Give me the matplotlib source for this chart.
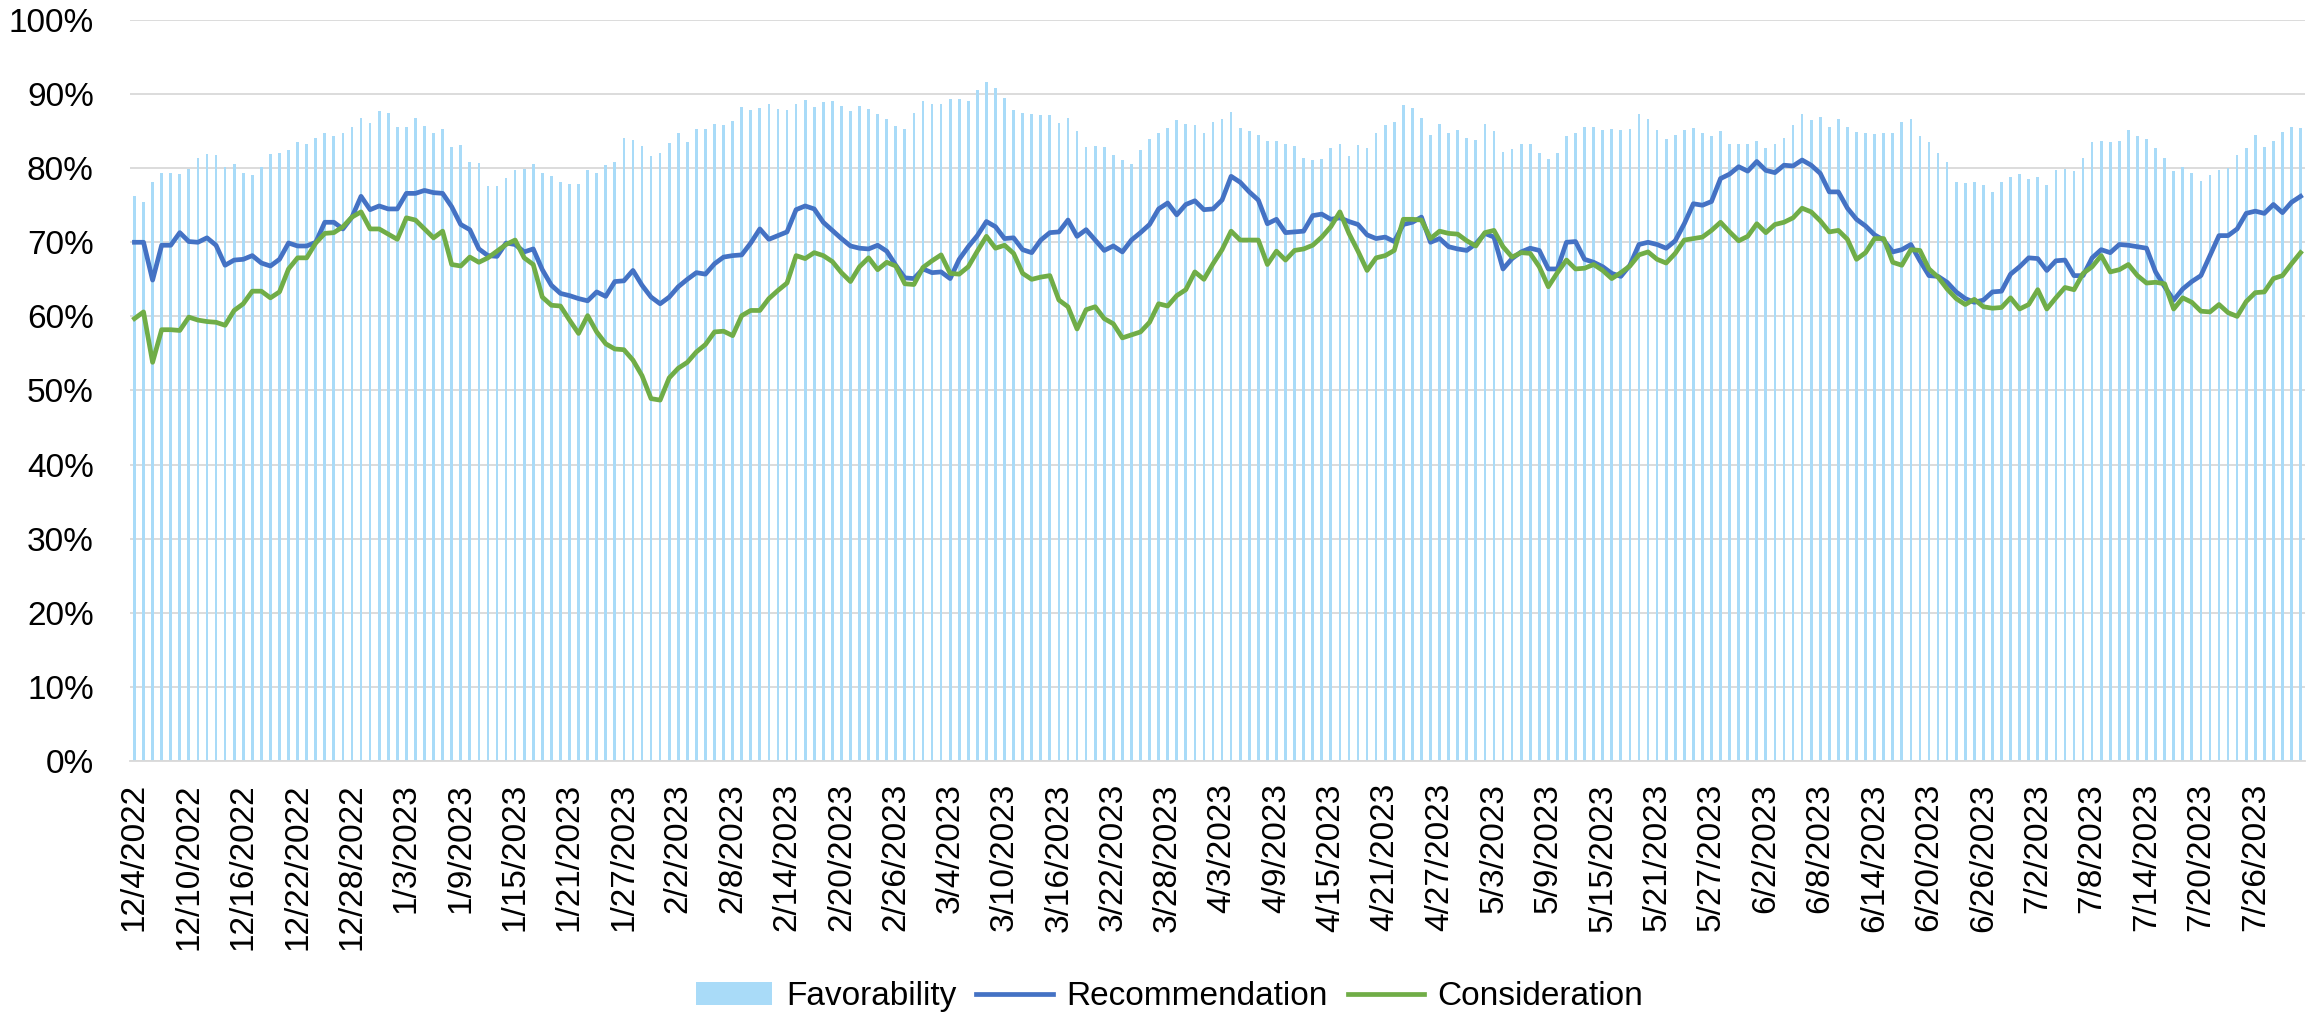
import matplotlib
matplotlib.use('Agg')
import matplotlib.pyplot as plt
import numpy as np
import pandas as pd

plt.rcParams['font.family'] = ['Liberation Sans', 'DejaVu Sans']

# daily dates, 12/4/2022 .. 7/31/2023
dates = pd.date_range('2022-12-04', '2023-07-31', freq='D')
labels = [f'{d.month}/{d.day}/{d.year}' for d in dates]

favorability = [
    76.2, 75.5, 78.1, 79.3, 79.3, 79.2, 79.9, 81.4, 81.9, 81.8,
    80.1, 80.5, 79.3, 79.1, 80.2, 81.9, 82.0, 82.5, 83.5, 83.2,
    84.1, 84.7, 84.4, 84.8, 85.5, 86.8, 86.1, 87.7, 87.4, 85.5,
    85.5, 86.8, 85.7, 84.8, 85.3, 82.8, 83.1, 80.8, 80.7, 77.6,
    77.6, 78.7, 79.7, 79.9, 80.5, 79.4, 78.9, 78.1, 77.9, 77.8,
    79.7, 79.3, 80.4, 80.9, 84.1, 83.8, 83.0, 81.7, 82.1, 83.4,
    84.7, 83.5, 85.3, 85.3, 86.0, 85.8, 86.3, 88.2, 87.8, 88.1,
    88.6, 88.0, 87.8, 88.6, 89.2, 88.3, 88.9, 89.1, 88.4, 87.7,
    88.4, 88.0, 87.3, 86.7, 85.7, 85.3, 87.4, 89.0, 88.6, 88.6,
    89.3, 89.3, 89.1, 90.5, 91.6, 90.8, 89.5, 87.8, 87.4, 87.3,
    87.2, 87.2, 86.1, 86.8, 85.0, 82.8, 83.0, 82.8, 81.8, 81.1,
    80.6, 82.4, 83.9, 84.8, 85.4, 86.5, 86.0, 85.8, 84.7, 86.2,
    86.7, 87.6, 85.4, 85.0, 84.5, 83.7, 83.7, 83.3, 83.0, 81.4,
    81.1, 81.2, 82.7, 83.3, 81.6, 83.1, 82.7, 84.8, 85.8, 86.2,
    88.5, 88.1, 86.8, 84.5, 85.9, 84.7, 85.1, 84.1, 83.8, 85.9,
    85.0, 82.2, 82.6, 83.3, 83.3, 82.1, 81.2, 82.1, 84.3, 84.7,
    85.6, 85.6, 85.1, 85.3, 85.1, 85.3, 87.3, 86.7, 85.1, 83.9,
    84.5, 85.1, 85.4, 84.8, 84.3, 85.0, 83.3, 83.3, 83.2, 83.7,
    82.7, 83.2, 84.1, 85.8, 87.3, 86.5, 86.9, 85.5, 86.6, 85.5,
    84.9, 84.7, 84.6, 84.7, 84.7, 86.2, 86.6, 84.3, 83.5, 82.0,
    80.8, 78.1, 78.0, 78.2, 77.7, 76.8, 78.2, 78.8, 79.2, 78.5,
    78.8, 77.7, 79.8, 79.9, 79.6, 81.4, 83.5, 83.7, 83.5, 83.7,
    85.1, 84.3, 83.9, 82.7, 81.4, 79.6, 80.2, 79.4, 78.3, 79.1,
    79.7, 80.0, 81.8, 82.7, 84.5, 82.8, 83.7, 84.9, 85.5, 85.4,
]

recommendation = [
    70.0, 70.0, 64.9, 69.6, 69.6, 71.3, 70.1, 70.0, 70.6, 69.6,
    66.9, 67.6, 67.7, 68.2, 67.2, 66.8, 67.7, 69.9, 69.5, 69.5,
    70.0, 72.7, 72.7, 71.8, 73.4, 76.2, 74.4, 74.9, 74.5, 74.5,
    76.6, 76.6, 77.0, 76.7, 76.6, 74.8, 72.4, 71.7, 69.1, 68.2,
    68.1, 69.9, 69.7, 68.7, 69.1, 66.3, 64.2, 63.1, 62.8, 62.4,
    62.1, 63.3, 62.7, 64.7, 64.8, 66.2, 64.2, 62.6, 61.7, 62.6,
    64.0, 65.0, 65.9, 65.7, 67.1, 68.0, 68.2, 68.3, 69.9, 71.8,
    70.4, 70.9, 71.4, 74.4, 74.9, 74.5, 72.7, 71.6, 70.5, 69.5,
    69.2, 69.1, 69.6, 68.8, 66.9, 65.2, 65.1, 66.4, 65.9, 66.0,
    65.1, 67.7, 69.4, 70.9, 72.8, 72.1, 70.5, 70.6, 69.0, 68.6,
    70.3, 71.3, 71.4, 73.0, 70.8, 71.7, 70.3, 68.9, 69.5, 68.7,
    70.3, 71.3, 72.4, 74.5, 75.3, 73.7, 75.1, 75.6, 74.4, 74.5,
    75.7, 78.9, 78.1, 76.8, 75.7, 72.5, 73.1, 71.3, 71.4, 71.5,
    73.6, 73.8, 73.1, 73.3, 72.8, 72.4, 71.0, 70.5, 70.7, 70.1,
    72.4, 72.7, 73.4, 70.0, 70.5, 69.4, 69.1, 68.9, 69.8, 71.2,
    70.7, 66.4, 67.8, 68.7, 69.2, 68.9, 66.4, 66.4, 70.0, 70.1,
    67.7, 67.3, 66.7, 65.8, 65.4, 66.9, 69.7, 70.0, 69.7, 69.2,
    70.2, 72.5, 75.2, 75.0, 75.5, 78.6, 79.2, 80.2, 79.6, 80.9,
    79.7, 79.4, 80.4, 80.3, 81.1, 80.4, 79.3, 76.8, 76.8, 74.6,
    73.1, 72.2, 71.0, 70.3, 68.7, 69.0, 69.7, 67.5, 65.5, 65.4,
    64.6, 63.3, 62.4, 61.9, 62.2, 63.3, 63.4, 65.7, 66.7, 67.9,
    67.8, 66.2, 67.5, 67.6, 65.5, 65.5, 67.9, 69.0, 68.6, 69.7,
    69.6, 69.4, 69.2, 66.0, 64.0, 62.2, 63.7, 64.7, 65.5, 68.2,
    70.9, 70.9, 71.8, 73.9, 74.2, 73.9, 75.1, 74.0, 75.4, 76.2,
]

consideration = [
    59.7, 60.6, 53.8, 58.2, 58.2, 58.1, 59.9, 59.5, 59.3, 59.2,
    58.8, 60.8, 61.7, 63.4, 63.4, 62.5, 63.3, 66.4, 67.9, 67.9,
    69.9, 71.2, 71.3, 72.1, 73.4, 74.1, 71.8, 71.8, 71.1, 70.4,
    73.3, 73.0, 71.8, 70.6, 71.5, 67.0, 66.8, 68.0, 67.3, 67.9,
    68.8, 69.7, 70.3, 67.9, 67.0, 62.6, 61.5, 61.4, 59.5, 57.7,
    60.1, 57.9, 56.3, 55.6, 55.5, 54.1, 52.0, 48.9, 48.7, 51.7,
    53.0, 53.8, 55.2, 56.2, 57.9, 58.0, 57.4, 60.1, 60.8, 60.8,
    62.4, 63.5, 64.5, 68.2, 67.8, 68.6, 68.2, 67.4, 65.9, 64.7,
    66.7, 67.9, 66.3, 67.3, 66.8, 64.4, 64.3, 66.6, 67.5, 68.3,
    65.8, 65.7, 66.7, 68.8, 70.8, 69.2, 69.6, 68.5, 65.8, 65.0,
    65.3, 65.5, 62.2, 61.3, 58.3, 60.9, 61.3, 59.7, 59.0, 57.1,
    57.5, 57.9, 59.2, 61.7, 61.4, 62.8, 63.6, 66.0, 65.0, 67.1,
    69.0, 71.5, 70.3, 70.3, 70.3, 67.0, 68.8, 67.6, 68.9, 69.1,
    69.6, 70.7, 72.1, 74.1, 71.2, 68.8, 66.2, 67.9, 68.2, 68.9,
    73.1, 73.1, 73.0, 70.5, 71.5, 71.2, 71.1, 70.2, 69.5, 71.3,
    71.6, 69.4, 68.0, 68.6, 68.5, 66.7, 64.0, 65.9, 67.6, 66.4,
    66.5, 67.0, 66.2, 65.1, 65.9, 66.8, 68.3, 68.7, 67.7, 67.2,
    68.5, 70.3, 70.5, 70.7, 71.6, 72.7, 71.4, 70.2, 70.8, 72.5,
    71.3, 72.4, 72.7, 73.3, 74.6, 74.1, 72.9, 71.4, 71.6, 70.4,
    67.7, 68.6, 70.5, 70.5, 67.3, 66.9, 69.0, 68.9, 66.4, 65.3,
    63.7, 62.4, 61.6, 62.3, 61.3, 61.1, 61.2, 62.5, 61.0, 61.6,
    63.6, 61.0, 62.5, 63.9, 63.6, 65.8, 66.7, 68.2, 66.0, 66.3,
    67.0, 65.5, 64.5, 64.6, 64.4, 61.0, 62.5, 61.9, 60.7, 60.6,
    61.6, 60.5, 60.0, 62.0, 63.2, 63.3, 65.1, 65.5, 67.1, 68.6,
]

x = np.arange(len(labels))

fig = plt.figure(figsize=(23.16, 10.30), dpi=100)
ax = fig.add_axes([0.0561, 0.2612, 0.9392, 0.7194])

bars = ax.bar(x, favorability, width=0.3, color='#A9DBF8', label='Favorability', zorder=2)
l1, = ax.plot(x, recommendation, color='#4472C4', lw=3.4, label='Recommendation', zorder=3,
              solid_joinstyle='round')
l2, = ax.plot(x, consideration, color='#70AD47', lw=3.4, label='Consideration', zorder=3,
              solid_joinstyle='round')

ax.set_xlim(-0.5, len(labels) - 0.5)
ax.set_ylim(0, 100)
ax.set_yticks(np.arange(0, 101, 10))
ax.set_yticklabels([f'{v}%' for v in range(0, 101, 10)])
ax.set_xticks(x[::6])
ax.set_xticklabels(labels[::6], rotation=90, va='top', ha='center')

ax.yaxis.grid(True, color='#D9D9D9', lw=1.3)
ax.set_axisbelow(True)
for s in ['top', 'right', 'left']:
    ax.spines[s].set_visible(False)
ax.spines['bottom'].set_color('#D9D9D9')
ax.spines['bottom'].set_linewidth(1.3)
ax.tick_params(axis='both', length=0, labelsize=24, colors='black')
ax.tick_params(axis='y', pad=26)
ax.tick_params(axis='x', pad=16)

fig.legend([bars, l1, l2], ['Favorability', 'Recommendation', 'Consideration'],
           loc='lower center', bbox_to_anchor=(0.505, -0.012), ncol=3, frameon=False,
           fontsize=24, handlelength=2.3, columnspacing=0.6, handletextpad=0.4)

fig.savefig('out.png', dpi=100)
